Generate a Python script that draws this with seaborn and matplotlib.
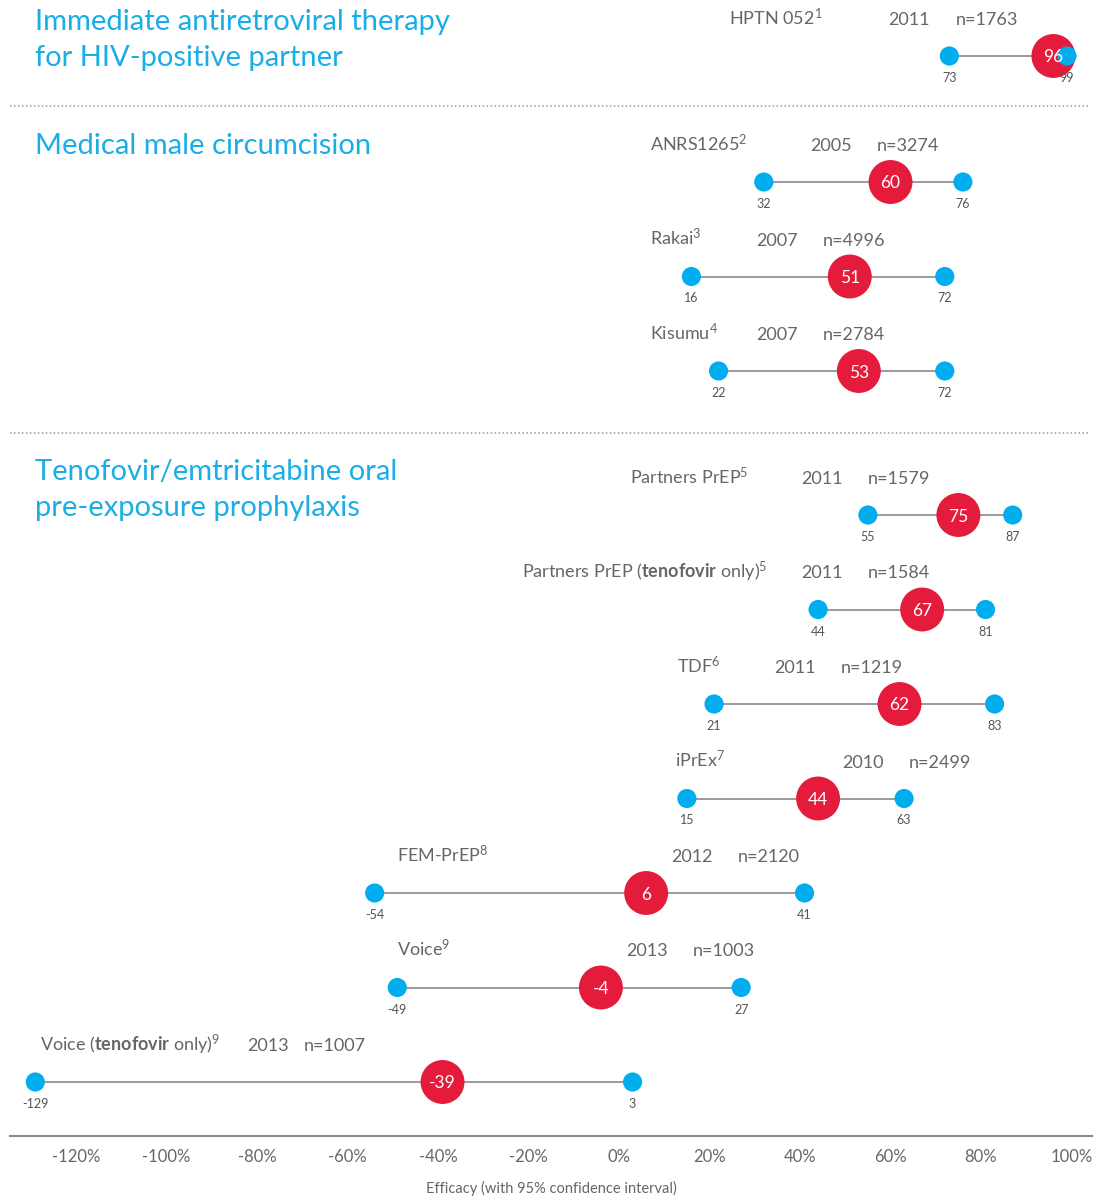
import pandas as pd
import seaborn as sns
import matplotlib.pyplot as plt

# dados dos estudos (eficácia em %, com IC 95%)
estudos = ["HPTN 052", "ANRS1265", "Rakai", "Kisumu", "Partners PrEP",
           "Partners PrEP (tenofovir only)", "TDF", "iPrEx", "FEM-PrEP",
           "Voice", "Voice (tenofovir only)"]
referencias = [1, 2, 3, 4, 5, 5, 6, 7, 8, 9, 9]
anos = [2011, 2005, 2007, 2007, 2011, 2011, 2011, 2010, 2012, 2013, 2013]
n_part = [1763, 3274, 4996, 2784, 1579, 1584, 1219, 2499, 2120, 1003, 1007]
eficacia = [96, 60, 51, 53, 75, 67, 62, 44, 6, -4, -39]
ic_inf = [73, 32, 16, 22, 55, 44, 21, 15, -54, -49, -129]
ic_sup = [99, 76, 72, 72, 87, 81, 83, 63, 41, 27, 3]
grupo = [0, 1, 1, 1, 2, 2, 2, 2, 2, 2, 2]
titulos = ["Immediate antiretroviral therapy\nfor HIV-positive partner",
           "Medical male circumcision",
           "Tenofovir/emtricitabine oral\npre-exposure prophylaxis"]
ticks = [-120, -100, -80, -60, -40, -20, 0, 20, 40, 60, 80, 100]

# layout (posições dos textos, em % no eixo x)
pos_rotulo = [24.3, 6.9, 6.9, 6.9, 2.4, -21.4, 12.8, 12.4, -49.1, -49.1, -128.0]
pos_ano = [59.4, 42.2, 30.3, 30.3, 40.2, 40.2, 34.3, 49.3, 11.5, 1.5, -82.2]
pos_n = [74.5, 57.0, 45.1, 45.1, 55.0, 55.0, 49.1, 64.1, 26.3, 16.4, -69.6]

AZUL = "#00AEEF"
VERMELHO = "#E41B3B"
CINZA = "#666666"

sns.set_style("white")
plt.rcParams["font.family"] = ["Lato", "DejaVu Sans"]
plt.rcParams["mathtext.fontset"] = "custom"
plt.rcParams["mathtext.rm"] = "Lato"
plt.rcParams["mathtext.bf"] = "Lato:bold"
plt.rcParams["mathtext.it"] = "Lato:italic"

# posição vertical de cada linha (em pixels, eixo invertido)
inicio_grupo = {0: 56, 1: 182, 2: 515}
passo = 94.5
linha_y = []
contagem = {}
for g in grupo:
    k = contagem.get(g, 0)
    linha_y.append(inicio_grupo[g] + k * passo)
    contagem[g] = k + 1

df = pd.DataFrame({"estudo": estudos, "ano": anos, "n": n_part,
                   "ef": eficacia, "lo": ic_inf, "hi": ic_sup, "y": linha_y})

W, H = 1096, 1196
fig = plt.figure(figsize=(W / 100, H / 100), dpi=100)
esq, dir_, eixo_y = 10, 1092, 1136
ax = fig.add_axes([esq / W, (H - eixo_y) / H, (dir_ - esq) / W, eixo_y / H])
px = 4.525  # pixels por %
ax.set_xlim((esq - 619) / px, (dir_ - 619) / px)
ax.set_ylim(eixo_y, 0)

ax.hlines(df["y"], df["lo"], df["hi"], color="#8a8a8a", lw=1.2, zorder=1)
sns.scatterplot(data=df, x="ef", y="y", s=1000, color=VERMELHO, edgecolor="none", zorder=3, ax=ax)
sns.scatterplot(data=df, x="lo", y="y", s=190, color=AZUL, edgecolor="none", zorder=4, ax=ax)
sns.scatterplot(data=df, x="hi", y="y", s=190, color=AZUL, edgecolor="none", zorder=4, ax=ax)

for i, r in df.iterrows():
    y = r["y"]
    ax.text(r["ef"], y, str(r["ef"]), color="white", fontsize=12.5,
            ha="center", va="center_baseline", zorder=5)
    ax.text(r["lo"], y + 22, str(r["lo"]), color="#555555", fontsize=9, ha="center",
            va="center", zorder=6)
    ax.text(r["hi"], y + 22, str(r["hi"]), color="#555555", fontsize=9, ha="center",
            va="center", zorder=6)
    nome = r["estudo"].replace("tenofovir", r"$\mathbf{tenofovir}$")
    nome = nome + r"$^{\mathrm{%d}}$" % referencias[i]
    ax.text(pos_rotulo[i], y - 31, nome, color=CINZA, fontsize=13, va="baseline")
    ax.text(pos_ano[i], y - 31, str(r["ano"]), color=CINZA, fontsize=13, va="baseline")
    ax.text(pos_n[i], y - 31, "n=%d" % r["n"], color=CINZA, fontsize=13, va="baseline")

# títulos dos grupos
base_titulo = [30, 154, 480]
x_titulo = (35 - 619) / px
for g, t in enumerate(titulos):
    for j, parte in enumerate(t.split("\n")):
        ax.text(x_titulo, base_titulo[g] + j * 36, parte, color="#1AAEE6",
                fontsize=21, va="baseline")

# linhas pontilhadas de separação
for ysep in [106, 433]:
    ax.plot([(esq - 619) / px, (1088 - 619) / px], [ysep, ysep], color="#9a9a9a",
            lw=1.1, ls=(0, (1, 1.6)), zorder=0)

ax.set_xticks(ticks)
ax.set_xticklabels(["%d%%" % t for t in ticks])
ax.set_yticks([])
ax.tick_params(axis="x", length=0, pad=9, labelsize=12, labelcolor="#666666")
for lado in ["top", "left", "right"]:
    ax.spines[lado].set_visible(False)
ax.spines["bottom"].set_color("#8a8a8a")
ax.spines["bottom"].set_linewidth(1.5)
ax.set_xlabel("Efficacy (with 95% confidence interval)", fontsize=10.5,
              color="#666666", labelpad=12)
ax.set_ylabel("")

fig.savefig("out.png", dpi=100)
